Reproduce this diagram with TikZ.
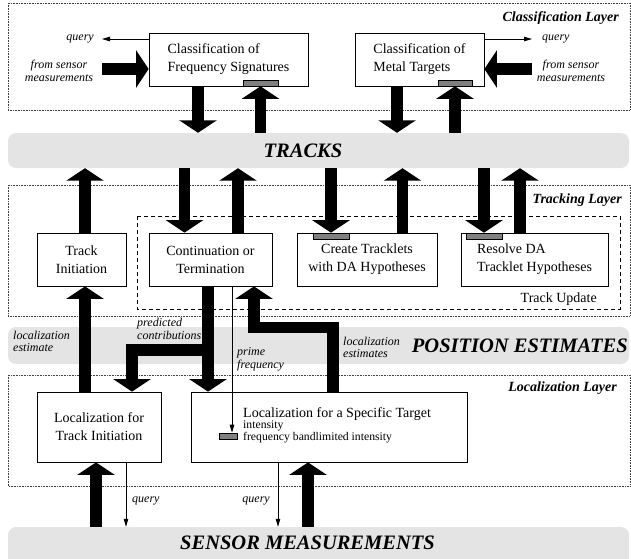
\documentclass[tikz,border=0pt]{standalone}
\usepackage{fontspec}
\setmainfont{Liberation Serif}
\usetikzlibrary{arrows.meta}
\definecolor{bandgray}{RGB}{228,228,228}
\definecolor{bargray}{RGB}{128,128,128}
\begin{document}
\begin{tikzpicture}[x=1pt,y=-1pt,
 layer/.style={draw=black!75, densely dotted, line width=0.6pt},
 band/.style={fill=bandgray, rounded corners=8pt, inner sep=0pt, minimum width=621pt},
 bigtxt/.style={font=\fontsize{20.5}{24}\selectfont\bfseries\itshape, inner sep=0pt},
 laytxt/.style={font=\fontsize{14}{16}\selectfont\bfseries\itshape, inner sep=0pt, anchor=east},
 box/.style={draw, line width=0.8pt, fill=white, inner sep=0pt, font=\fontsize{14}{18}\selectfont, align=center},
 lbox/.style={box, align=left},
 bar/.style={draw, line width=0.6pt, fill=bargray, inner sep=0pt, minimum height=6pt},
 lab/.style={font=\fontsize{12}{12.5}\selectfont\itshape, inner sep=0pt, align=left},
 small/.style={font=\fontsize{11.7}{12}\selectfont, anchor=base west, inner sep=0pt},
 fat/.style={line width=11.5pt, -{Triangle[width=37pt,length=12.5pt]}},
 thinarr/.style={line width=0.8pt, -{Triangle[width=4.5pt,length=8pt]}},
]
\useasboundingbox (0,0) rectangle (631,558);

% layers
\draw[layer] (8,3) rectangle (630,110);
\draw[layer] (8,185) rectangle (630,316);
\draw[layer] (8,375) rectangle (630,486);
\draw[dashed, line width=0.7pt, dash pattern=on 4pt off 3pt] (137,216) rectangle (620,309);

% bands
\node[band, minimum height=35pt] (tracks) at (318.5,150.5) {};
\node[band, minimum height=37pt] (pos) at (318.5,345.5) {};
\node[band, minimum height=44pt] (sensor) at (318.5,549) {};
\node[bigtxt] (trackst) at (303,151) {TRACKS};
\node[bigtxt, anchor=east] (post) at (628,346) {POSITION ESTIMATES};
\node[bigtxt] (sensort) at (307.5,543) {SENSOR MEASUREMENTS};

% layer labels
\node[laytxt] (cll) at (619,18) {Classification Layer};
\node[laytxt] (tll) at (622,200) {Tracking Layer};
\node[laytxt] (lll) at (617,388) {Localization Layer};
\node[font=\fontsize{14}{16}\selectfont, anchor=east, inner sep=0pt] (tu) at (597,299) {Track Update};

% boxes
\node[lbox, minimum width=159pt, minimum height=53pt] (cfs) at (228.5,59.5) {Classification of\\Frequency Signatures};
\node[lbox, minimum width=129pt, minimum height=53pt] (mt) at (419.5,59.5) {Classification of\\Metal Targets};
\node[box, minimum width=89pt, minimum height=53pt] (ti) at (81.5,259.5) {Track\\Initiation};
\node[box, minimum width=123pt, minimum height=53pt] (ct) at (210.5,259.5) {Continuation or\\Termination};
\node[box, minimum width=140pt, minimum height=53pt] (crt) at (367,259.5) {Create Tracklets\\with DA Hypotheses};
\node[lbox, minimum width=147pt, minimum height=53pt] (rda) at (534.5,259.5) {Resolve DA\\Tracklet Hypotheses};
\node[box, minimum width=124pt, minimum height=70pt] (lti) at (99,427) {Localization for\\Track Initiation};
\node[box, minimum width=276pt, minimum height=70pt] (lst) at (329,427) {};
\node[font=\fontsize{14}{16}\selectfont, anchor=base west, inner sep=0pt] (lsttitle) at (243,417) {Localization for a Specific Target};
\node[small] (lstint) at (243,428) {intensity};
\node[small] (lstfreq) at (243,440) {frequency bandlimited intensity};

% bars
\node[bar, minimum width=35pt] (bar1) at (260.5,83) {};
\node[bar, minimum width=34pt] (bar2) at (455,83) {};
\node[bar, minimum width=36pt] (bar3) at (331,236) {};
\node[bar, minimum width=36pt] (bar4) at (484,236) {};
\node[bar, minimum width=18pt] (bar5) at (228,436) {};

% labels
\node[lab, anchor=east] (q1) at (94,39) {query};
\node[lab, align=center] (fs1) at (59,71) {from sensor\\measurements};
\node[lab, anchor=west] (q2) at (542,39) {query};
\node[lab, align=center] (fs2) at (571,71) {from sensor\\measurements};
\node[lab, anchor=west] (le1) at (13,341.5) {localization\\estimate};
\node[lab, anchor=west] (pc) at (137,329) {predicted\\contributions};
\node[lab, anchor=west] (pf) at (237,359.5) {prime\\frequency};
\node[lab, anchor=west] (le2) at (343,347.5) {localization\\estimates};
\node[lab, anchor=west] (q3) at (132,501) {query};
\node[lab, anchor=east] (q4) at (270,501) {query};

% classification layer connectors
\coordinate (q1e) at (102,39);
\coordinate (q2e) at (532,39);
\coordinate (s1) at (102,69);
\coordinate (s2) at (532,69);
\draw[thinarr] (cfs.west |- q1e) -- (q1e);
\draw[thinarr] (mt.east |- q2e) -- (q2e);
\draw[fat] (s1) -- (s1 -| cfs.west);
\draw[fat] (s2) -- (s2 -| mt.east);
\draw[fat] (198,0 |- cfs.south) -- (198,0 |- tracks.north);
\draw[fat] (bar1.south |- tracks.north) -- (bar1.south);
\draw[fat] (397,0 |- mt.south) -- (397,0 |- tracks.north);
\draw[fat] (bar2.south |- tracks.north) -- (bar2.south);

% tracking layer connectors
\draw[fat] (85,0 |- ti.north) -- (85,0 |- tracks.south);
\draw[fat] (184.5,0 |- tracks.south) -- (184.5,0 |- ct.north);
\draw[fat] (238,0 |- ct.north) -- (238,0 |- tracks.south);
\draw[fat] (bar3.north |- tracks.south) -- (bar3.north);
\draw[fat] (402.5,0 |- crt.north) -- (402.5,0 |- tracks.south);
\draw[fat] (bar4.north |- tracks.south) -- (bar4.north);
\draw[fat] (520,0 |- rda.north) -- (520,0 |- tracks.south);

% localization connectors
\coordinate (jn) at (208,350);
\coordinate (jl) at (132,350);
\coordinate (er) at (333,327.5);
\coordinate (el) at (254,327.5);
\draw[fat] (85,0 |- lti.north) -- (85,0 |- ti.south);
\draw[fat] (208,0 |- ct.south) -- (208,0 |- lst.north);
\draw[fat, line join=miter] (jn) -- (jl) -- (jl |- lti.north);
\draw[fat, line join=miter] (er |- lst.north) -- (er) -- (el) -- (el |- ct.south);
\draw[thinarr] (232,0 |- ct.south) -- (232,0 |- bar5.north);
\draw[fat] (96,0 |- sensor.north) -- (96,0 |- lti.south);
\draw[fat] (308,0 |- sensor.north) -- (308,0 |- lst.south);
\draw[thinarr] (126,0 |- lti.south) -- (126,0 |- sensor.north);
\draw[thinarr] (278,0 |- lst.south) -- (278,0 |- sensor.north);
\end{tikzpicture}
\end{document}
